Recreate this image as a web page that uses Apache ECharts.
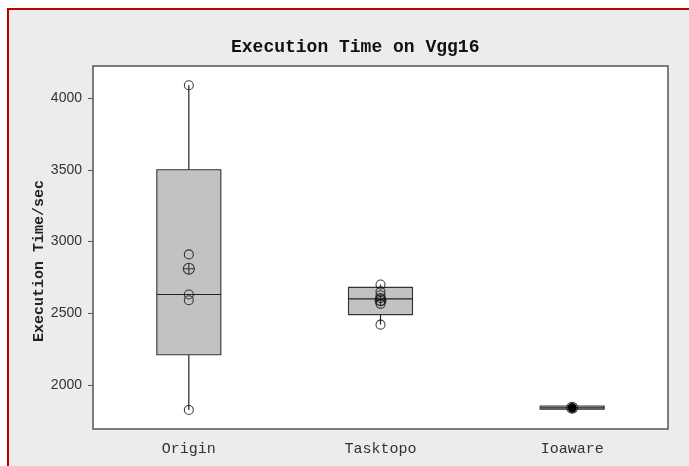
<!DOCTYPE html>
<html>
<head>
<meta charset="utf-8">
<script src="https://cdn.jsdelivr.net/npm/echarts@6/dist/echarts.min.js"></script>
<style>
  html, body { margin: 0; padding: 0; background: #fff; }
  #frame {
    position: absolute; left: 7px; top: 8px; width: 690px; height: 470px;
    background: #ececec; border-left: 2px solid #c00000; border-top: 2px solid #c00000;
  }
  #main { position: absolute; left: 0; top: 0; width: 689px; height: 466px; }
</style>
</head>
<body>
<div id="frame"></div>
<div id="main"></div>
<script>
'use strict';

// categories and box statistics [min, Q1, median, Q3, max]
var categories = ['Origin', 'Tasktopo', 'Ioaware'];
var box_stats = [
    [1825, 2210, 2630, 3500, 4090],
    [2420, 2490, 2600, 2680, 2700],
    [1828, 1830, 1840, 1852, 1854]
];
// individual observations (drawn as circles)
var origin_points   = [4090, 2910, 2630, 2590, 1825];
var tasktopo_points = [2700, 2650, 2625, 2605, 2585, 2565, 2420];
var ioaware_points  = [1834, 1838, 1842, 1846];
var means = [2810, 2590, 1840];
var y_ticks = [2000, 2500, 3000, 3500, 4000];

var box_data = [];
for (var i = 0; i < box_stats.length; i++) {
    box_data.push([i].concat(box_stats[i]));
}
var hollow_data = [];
origin_points.forEach(function (v) { hollow_data.push([0, v]); });
tasktopo_points.forEach(function (v) { hollow_data.push([1, v]); });
var filled_data = [];
ioaware_points.forEach(function (v) { filled_data.push([2, v]); });
var mean_data = [];
for (var j = 0; j < means.length; j++) {
    mean_data.push([j, means[j]]);
}

var BOX_W = 64;

// box without whisker caps, like the minitab style plot
function render_box(params, api) {
    var x = api.coord([api.value(0), 0])[0];
    var y_min = api.coord([0, api.value(1)])[1];
    var y_q1  = api.coord([0, api.value(2)])[1];
    var y_med = api.coord([0, api.value(3)])[1];
    var y_q3  = api.coord([0, api.value(4)])[1];
    var y_max = api.coord([0, api.value(5)])[1];
    var line_style = { stroke: '#222', lineWidth: 1.2 };
    return {
        type: 'group',
        children: [
            { type: 'line', shape: { x1: x, y1: y_min, x2: x, y2: y_q1 }, style: line_style },
            { type: 'line', shape: { x1: x, y1: y_q3, x2: x, y2: y_max }, style: line_style },
            {
                type: 'rect',
                shape: { x: x - BOX_W / 2, y: y_q3, width: BOX_W, height: y_q1 - y_q3 },
                style: { fill: '#c2c2c2', stroke: '#333', lineWidth: 1.1 }
            },
            { type: 'line', shape: { x1: x - BOX_W / 2, y1: y_med, x2: x + BOX_W / 2, y2: y_med }, style: line_style }
        ]
    };
}

var chart = echarts.init(document.getElementById('main'));

var option = {
    backgroundColor: 'transparent',
    animation: false,
    title: {
        text: 'Execution Time on Vgg16',
        left: 226,
        top: 33,
        textStyle: {
            fontFamily: 'Liberation Mono',
            fontWeight: 'bold',
            fontSize: 18,
            color: '#111'
        }
    },
    grid: {
        left: 93,
        right: 21,
        top: 66,
        bottom: 37,
        show: true,
        backgroundColor: '#fff',
        borderColor: '#555',
        borderWidth: 1.5
    },
    graphic: [{
        type: 'text',
        left: 32,
        top: 180,
        rotation: Math.PI / 2,
        style: {
            text: 'Execution Time/sec',
            font: 'bold 15px "Liberation Mono"',
            fill: '#222'
        }
    }],
    xAxis: {
        type: 'category',
        data: categories,
        boundaryGap: true,
        axisLine: { show: false },
        axisTick: { alignWithLabel: true, length: 4, lineStyle: { color: '#555' } },
        axisLabel: {
            margin: 13,
            fontFamily: 'Liberation Mono',
            fontSize: 15,
            color: '#333'
        },
        splitLine: { show: false }
    },
    yAxis: {
        type: 'value',
        min: 1692,
        max: 4224,
        axisLine: { show: false },
        axisTick: {
            show: true,
            length: 5,
            customValues: y_ticks,
            lineStyle: { color: '#555' }
        },
        axisLabel: {
            margin: 11,
            customValues: y_ticks,
            formatter: function (v) { return String(v); },
            fontFamily: 'Liberation Sans',
            fontSize: 14,
            color: '#333'
        },
        splitLine: { show: false }
    },
    series: [
        {
            type: 'custom',
            renderItem: render_box,
            data: box_data,
            encode: { x: 0, y: [1, 2, 3, 4, 5] },
            z: 2
        },
        {
            type: 'scatter',
            data: hollow_data,
            symbol: 'circle',
            symbolSize: 9,
            itemStyle: { color: 'rgba(0,0,0,0)', borderColor: '#111', borderWidth: 1.1 },
            z: 3
        },
        {
            type: 'scatter',
            data: filled_data,
            symbol: 'circle',
            symbolSize: 8,
            itemStyle: { color: '#000' },
            z: 4
        },
        {
            type: 'scatter',
            data: mean_data,
            symbol: 'circle',
            symbolSize: 11,
            itemStyle: { color: 'rgba(0,0,0,0)', borderColor: '#111', borderWidth: 1.1 },
            z: 3
        },
        {
            type: 'scatter',
            data: mean_data,
            symbol: 'path://M4.5,0h1v10h-1z M0,4.5h10v1h-10z',
            symbolSize: 11,
            itemStyle: { color: '#111' },
            z: 3
        }
    ]
};

chart.setOption(option);
</script>
</body>
</html>
